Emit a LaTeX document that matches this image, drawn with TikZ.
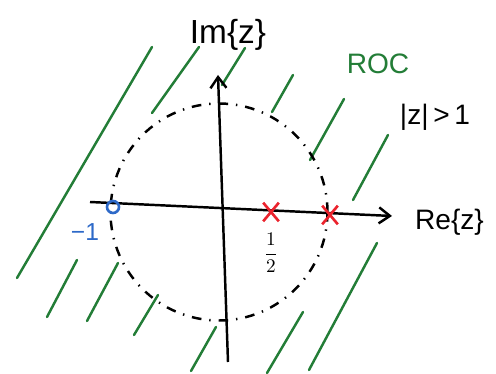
\documentclass[tikz,border=0pt]{standalone}
\usepackage{fontspec}
\setmainfont{Liberation Sans}
\usetikzlibrary{positioning,arrows.meta,shapes.misc}
\definecolor{pzGreen}{RGB}{35,125,55}
\definecolor{pzBlue}{RGB}{45,105,200}
\definecolor{pzRed}{RGB}{235,35,45}

\begin{document}
\begin{tikzpicture}[
  axis/.style={-{Straight Barb[length=2.2mm,width=3.2mm]}, line width=1.4pt},
  unitc/.style={line width=1.4pt, dash pattern=on 5.5pt off 4.5pt on 0.8pt off 4.5pt},
  hatch/.style={pzGreen, line width=1.4pt, line cap=round},
  pole/.style={draw=pzRed, cross out, line width=1.5pt, minimum width=2.6mm, minimum height=3.2mm, inner sep=0pt},
  zero/.style={draw=pzBlue, circle, line width=1.5pt, minimum size=2.4mm, inner sep=0pt},
  lbl/.style={font=\fontsize{16}{18}\selectfont, inner sep=1pt},
]
\useasboundingbox (0,0) rectangle (9.92,-7.48);
% ROC hatching
\foreach \ax/\ay/\bx/\by in {0.34/-5.56/3.04/-0.94, 0.94/-6.34/1.54/-5.20,
                             1.74/-6.42/2.36/-5.26, 2.68/-6.70/3.16/-5.90,
                             3.04/-2.26/3.98/-0.94, 4.44/-1.70/4.90/-0.96,
                             5.44/-2.24/5.86/-1.50, 6.20/-3.20/6.88/-1.98,
                             7.06/-4.00/7.76/-2.70, 3.82/-7.42/4.32/-6.54,
                             5.34/-7.46/6.06/-6.24, 6.18/-7.40/7.54/-4.86}
  \draw[hatch] (\ax,\ay) -- (\bx,\by);
% unit circle
\coordinate (o) at (4.38,-4.24);
\draw[unitc] (o) circle (2.17);
% axes
\coordinate (xl) at (1.80,-4.04);
\coordinate (xr) at (7.84,-4.32);
\coordinate (yb) at (4.56,-7.24);
\coordinate (yt) at (4.36,-1.50);
\draw[axis] (xl) -- (xr);
\draw[axis] (yb) -- (yt);
\node[lbl, font=\fontsize{19}{22}\selectfont] (imlbl) at (4.56,-0.70) {Im\{z\}};
\node[lbl, anchor=west] (relbl) at (8.26,-4.44) {Re\{z\}};
% poles and zero
\node[pole] (p1) at (5.42,-4.24) {};
\node[pole] (p2) at (6.60,-4.30) {};
\node[zero] (z1) at (2.26,-4.14) {};
\node[lbl, font=\fontsize{11}{13}\selectfont] (half) [below=0.2cm of p1] {$\displaystyle\frac{1}{2}$};
\node[lbl, pzBlue, font=\fontsize{14}{16}\selectfont] (mone) at (1.70,-4.64) {−1};
% region
\node[lbl, pzGreen] (roc) at (7.56,-1.28) {ROC};
\node[lbl] (cond) at (8.70,-2.34) {|z|\,>\,1};
\end{tikzpicture}
\end{document}
